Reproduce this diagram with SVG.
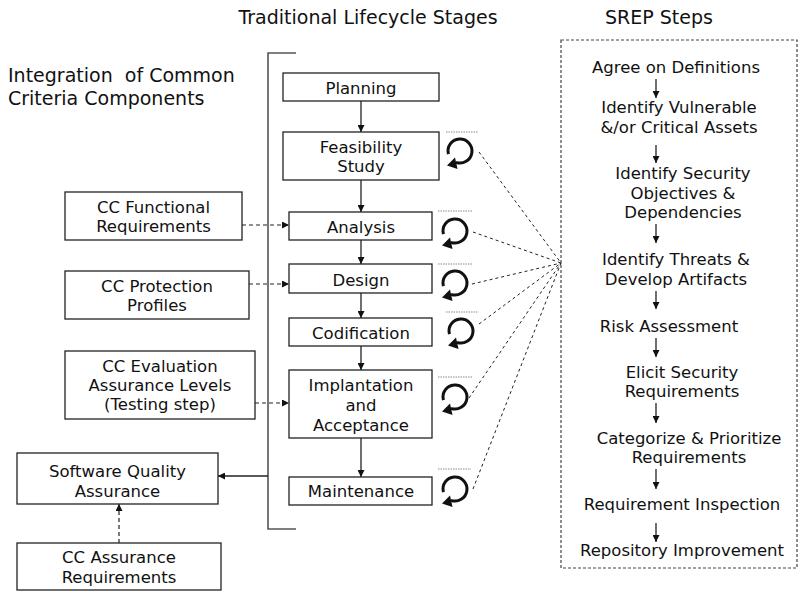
<svg xmlns="http://www.w3.org/2000/svg" width="800" height="591" viewBox="0 0 800 591">
<defs>
<style>
text{font-family:"DejaVu Sans","Verdana",sans-serif;font-size:16.5px;fill:#111;}
.h{font-size:19px;}
.c{text-anchor:middle;}
.box{fill:#fff;stroke:#222;stroke-width:1.3;}
.sol{fill:none;stroke:#222;stroke-width:1.3;}
.dash{fill:none;stroke:#222;stroke-width:1.2;stroke-dasharray:4 3;}
.fine{fill:none;stroke:#222;stroke-width:1;stroke-dasharray:3 3;}
.dot{fill:none;stroke:#888;stroke-width:1;stroke-dasharray:1.5 1;}
.brk{fill:none;stroke:#555;stroke-width:1.6;}
</style>
<marker id="ah" viewBox="0 0 10 10" refX="10" refY="5" markerWidth="7" markerHeight="7" markerUnits="userSpaceOnUse" orient="auto">
<path d="M0 0 L10 5 L0 10 z" fill="#111"/>
</marker>
<g id="loop">
<path d="M -11.6 3.1 A 12 12 0 1 1 -4.1 11.3" fill="none" stroke="#111" stroke-width="3"/>
<path d="M -13 14.5 L -5 6.5 L -2.5 18 z" fill="#111"/>
</g>
</defs>

<text x="368" y="24" class="c h">Traditional Lifecycle Stages</text>
<text x="659" y="24" class="c h">SREP Steps</text>
<text x="8" y="82" class="h" xml:space="preserve">Integration  of Common</text>
<text x="8" y="105" class="h">Criteria Components</text>

<path class="brk" d="M296 53 H268 V529 H296"/>

<g id="connectors">
<line class="sol" x1="361" y1="101" x2="361" y2="132" marker-end="url(#ah)"/>
<line class="sol" x1="361" y1="180" x2="361" y2="212" marker-end="url(#ah)"/>
<line class="sol" x1="361" y1="240" x2="361" y2="264" marker-end="url(#ah)"/>
<line class="sol" x1="361" y1="293" x2="361" y2="318" marker-end="url(#ah)"/>
<line class="sol" x1="361" y1="346" x2="361" y2="370" marker-end="url(#ah)"/>
<line class="sol" x1="361" y1="438" x2="361" y2="477" marker-end="url(#ah)"/>
<line class="dash" x1="242" y1="225" x2="289" y2="225" marker-end="url(#ah)"/>
<line class="dash" x1="249" y1="284" x2="289" y2="284" marker-end="url(#ah)"/>
<line class="dash" x1="255" y1="403" x2="289" y2="403" marker-end="url(#ah)"/>
<line class="sol" x1="268" y1="476" x2="218" y2="476" marker-end="url(#ah)"/>
<line class="dash" x1="119" y1="543" x2="119" y2="504" marker-end="url(#ah)"/>
<line class="fine" x1="479" y1="152" x2="561" y2="263"/>
<line class="fine" x1="473" y1="232" x2="561" y2="263"/>
<line class="fine" x1="472" y1="284" x2="561" y2="263"/>
<line class="fine" x1="479" y1="324" x2="561" y2="263"/>
<line class="fine" x1="469" y1="398" x2="561" y2="263"/>
<line class="fine" x1="473" y1="489" x2="561" y2="263"/>
</g>

<g id="planning"><rect class="box" x="283" y="73" width="156" height="28"/><text x="361" y="94" class="c">Planning</text></g>
<g id="feasibility"><rect class="box" x="283" y="132" width="156" height="48"/><text x="361" y="153" class="c">Feasibility</text><text x="361" y="172" class="c">Study</text></g>
<g id="analysis"><rect class="box" x="289" y="212" width="143" height="28"/><text x="361" y="233" class="c">Analysis</text></g>
<g id="design"><rect class="box" x="289" y="264" width="143" height="29"/><text x="361" y="286" class="c">Design</text></g>
<g id="codification"><rect class="box" x="289" y="318" width="143" height="28"/><text x="361" y="339" class="c">Codification</text></g>
<g id="implantation"><rect class="box" x="289" y="370" width="143" height="68"/><text x="361" y="391" class="c">Implantation</text><text x="361" y="411" class="c">and</text><text x="361" y="431" class="c">Acceptance</text></g>
<g id="maintenance"><rect class="box" x="289" y="477" width="143" height="28"/><text x="361" y="497" class="c">Maintenance</text></g>

<g id="cc-functional"><rect class="box" x="65" y="192" width="177" height="48"/><text x="153.5" y="213" class="c">CC Functional</text><text x="153.5" y="232" class="c">Requirements</text></g>
<g id="cc-protection"><rect class="box" x="65" y="271" width="184" height="48"/><text x="157" y="292" class="c">CC Protection</text><text x="157" y="311" class="c">Profiles</text></g>
<g id="cc-evaluation"><rect class="box" x="65" y="351" width="190" height="68"/><text x="160" y="372" class="c">CC Evaluation</text><text x="160" y="391" class="c">Assurance Levels</text><text x="160" y="410" class="c">(Testing step)</text></g>
<g id="sqa"><rect class="box" x="17" y="453" width="201" height="51"/><text x="117.5" y="477" class="c">Software Quality</text><text x="117.5" y="497" class="c">Assurance</text></g>
<g id="cc-assurance"><rect class="box" x="17" y="543" width="204" height="47"/><text x="119" y="563" class="c">CC Assurance</text><text x="119" y="583" class="c">Requirements</text></g>

<g id="loops">
<line class="dot" x1="446" y1="132" x2="478" y2="132"/><use href="#loop" x="460" y="151"/>
<line class="dot" x1="438" y1="211" x2="472" y2="211"/><use href="#loop" x="455" y="231"/>
<line class="dot" x1="438" y1="264" x2="472" y2="264"/><use href="#loop" x="455" y="283"/>
<line class="dot" x1="446" y1="312" x2="478" y2="312"/><use href="#loop" x="461" y="331"/>
<line class="dot" x1="438" y1="377" x2="472" y2="377"/><use href="#loop" x="455" y="397"/>
<line class="dot" x1="438" y1="469" x2="471" y2="469"/><use href="#loop" x="455" y="489"/>
</g>

<g id="srep">
<rect x="561" y="40" width="236" height="528" fill="none" stroke="#444" stroke-width="1.2" stroke-dasharray="3 2"/>
<text x="676" y="73" class="c">Agree on Definitions</text>
<text x="679" y="113" class="c">Identify Vulnerable</text>
<text x="679" y="133" class="c">&amp;/or Critical Assets</text>
<text x="683" y="179" class="c">Identify Security</text>
<text x="683" y="199" class="c">Objectives &amp;</text>
<text x="683" y="218" class="c">Dependencies</text>
<text x="676" y="265" class="c">Identify Threats &amp;</text>
<text x="676" y="285" class="c">Develop Artifacts</text>
<text x="669" y="332" class="c">Risk Assessment</text>
<text x="682" y="378" class="c">Elicit Security</text>
<text x="682" y="397" class="c">Requirements</text>
<text x="689" y="444" class="c">Categorize &amp; Prioritize</text>
<text x="689" y="463" class="c">Requirements</text>
<text x="682" y="510" class="c">Requirement Inspection</text>
<text x="682" y="556" class="c">Repository Improvement</text>
<line class="sol" x1="656" y1="79" x2="656" y2="98" marker-end="url(#ah)"/>
<line class="sol" x1="656" y1="145" x2="656" y2="163" marker-end="url(#ah)"/>
<line class="sol" x1="656" y1="224" x2="656" y2="243" marker-end="url(#ah)"/>
<line class="sol" x1="656" y1="291" x2="656" y2="309" marker-end="url(#ah)"/>
<line class="sol" x1="656" y1="338" x2="656" y2="357" marker-end="url(#ah)"/>
<line class="sol" x1="656" y1="403" x2="656" y2="423" marker-end="url(#ah)"/>
<line class="sol" x1="656" y1="469" x2="656" y2="489" marker-end="url(#ah)"/>
<line class="sol" x1="656" y1="523" x2="656" y2="542" marker-end="url(#ah)"/>
</g>
</svg>
